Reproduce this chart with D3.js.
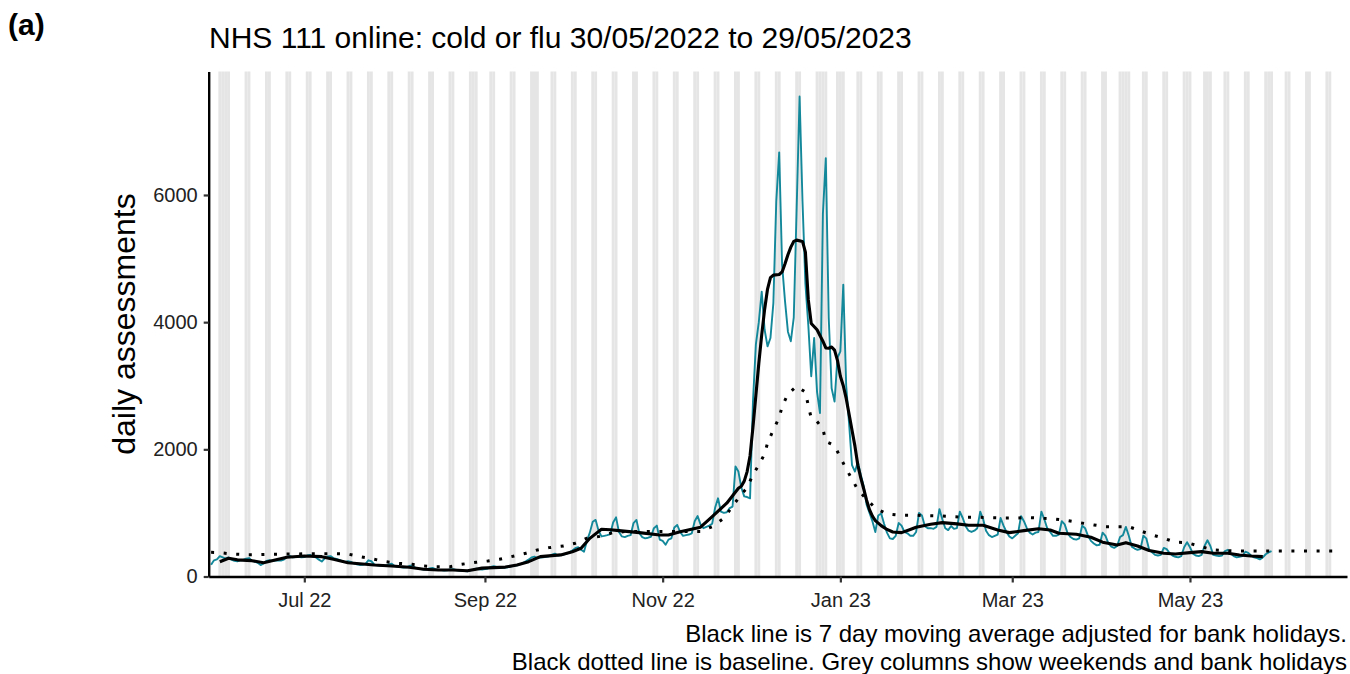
<!DOCTYPE html>
<html><head><meta charset="utf-8">
<script src="https://cdn.jsdelivr.net/npm/d3@7"></script>
<style>body{margin:0;background:#fff;} svg{display:block;font-family:"Liberation Sans",Arial,Helvetica,sans-serif;}</style>
</head><body><svg id="chart" width="1350" height="674"></svg>
<script>
// ---------------- data ----------------
const startDate = "2022-05-30";
// daily NHS 111 online cold or flu assessments, 30/05/2022 .. 29/05/2023
const dailyAssessments = [
 185,255,270,320,300,280,300, 265,245,240,255,260,280,290, 250,235,215,180,205,245,255,
 245,250,255,250,265,305,325, 300,305,310,300,305,330,340, 310,300,265,235,285,315,320,
 290,275,260,240,225,240,230, 205,190,182,185,200,255,240, 190,175,168,165,172,190,200,
 165,155,148,140,145,165,175, 140,128,118,110,112,128,135, 115,105,100,95,96,110,116,
 102,95,88,84,82,98,108, 122,115,110,118,126,150,162, 150,140,135,140,146,160,168,
 175,190,210,238,268,300,312, 290,298,300,310,318,345,360, 330,338,345,360,380,410,445,
 460,420,390,560,690,860,890, 720,630,640,650,665,850,930, 700,630,620,640,650,840,890,
 680,620,600,610,625,760,800, 580,560,500,580,600,770,810, 700,640,650,660,680,870,950,
 820,760,780,800,830,1080,1230, 1020,1000,1010,1075,1100,1730,1650, 1400,1260,1250,1230,2750,3650,4000,
 4480,3880,3620,3750,4300,5900,6670, 4900,4330,3850,3700,4070,5800,7550, 5900,4600,3950,3150,3750,2900,2570,
 5700,6580,4070,2960,2750,3440,3540, 4590,3000,2400,1750,1650,1800,1600, 1420,1130,1000,870,700,960,990,
 830,690,600,590,640,840,800, 700,680,640,640,700,1000,960, 790,760,760,750,780,1060,900,
 760,730,795,750,760,1020,920, 790,720,700,720,760,1020,900, 720,650,620,640,660,920,800,
 700,630,600,640,680,950,870, 760,690,660,690,700,1020,900, 760,700,640,640,660,870,820,
 680,620,590,580,600,800,760, 640,560,520,490,500,690,640, 520,470,450,480,620,650,780,
 640,470,440,420,430,640,600, 420,380,340,330,340,450,430, 370,330,310,300,320,460,540,
 460,360,330,320,340,480,570, 480,340,330,320,330,400,420, 360,320,300,310,320,390,370,
 330,300,290,270,300,350,380, 400
];
// 7 day moving average (adjusted for bank holidays): day number since startDate, value
const maDay = [3,6,9,14,18,22,26,32,38,42,47,52,56,62,68,73,78,83,88,93,97,101,105,109,113,120,124,127,130,134,
 137,140,147,154,157,161,168,172,177,181,182,183,184,185,186,187,188,189,190,191,192,193,195,196,197,198,199,200,201,203,
 204,205,206,208,210,211,212,213,214,215,216,217,218,219,220,221,222,223,224,225,226,227,228,230,232,234,237,240,242,247,
 251,256,260,265,270,274,279,284,288,291,297,302,306,311,314,318,322,327,331,336,340,344,349,353,357,361];
const maValue = [233,287,262,249,217,260,302,323,312,271,217,197,181,165,145,113,102,102,91,132,139,148,180,233,312,340,390,444,600,743,
 735,721,690,653,653,705,775,942,1153,1389,1420,1500,1650,1900,2350,2850,3350,3800,4200,4520,4700,4740,4750,4790,4920,5060,5180,5270,5290,5270,
 5100,4350,3980,3880,3700,3594,3590,3610,3560,3400,3150,3000,2800,2550,2300,2050,1750,1550,1380,1200,1050,950,880,800,740,700,690,740,775,822,
 847,827,806,806,732,690,721,750,732,680,665,617,540,496,532,480,410,365,354,375,391,365,365,339,323,312];
// baseline: day number since startDate, value
const baseDay = [0,3,7,12,16,21,29,34,43,47,51,56,60,64,69,73,77,82,86,91,95,99,103,108,112,116,121,125,129,133,
 138,142,168,172,176,181,184,186,188,190,191,193,195,196,198,201,204,205,206,208,210,211,214,216,218,220,222,225,228,232,
 236,241,245,250,254,258,263,267,272,277,281,285,289,294,298,303,307,315,319,323,327,331,335,339,344,349,353,388];
const baseValue = [380,375,354,343,343,350,354,359,359,354,312,271,233,208,192,165,154,154,192,224,244,271,312,365,417,454,480,523,602,627,
 690,706,706,784,917,1232,1398,1600,1756,1925,2100,2307,2500,2674,2870,2990,2900,2685,2491,2438,2323,2123,2060,1871,1693,1531,1362,1216,1074,984,
 964,964,958,953,942,932,932,926,921,921,926,916,906,879,847,811,784,784,717,653,602,539,532,480,417,406,402,402];
const bankHolidays = ["2022-06-02","2022-06-03","2022-08-29","2022-09-19","2022-12-26","2022-12-27",
 "2023-01-02","2023-04-07","2023-04-10","2023-05-01","2023-05-08","2023-05-29"];
const yTicks = [0,2000,4000,6000];
const xTickDates = ["2022-07-01","2022-09-01","2022-11-01","2023-01-01","2023-03-01","2023-05-01"];
const xTickLabels = ["Jul 22","Sep 22","Nov 22","Jan 23","Mar 23","May 23"];
const titleText = "NHS 111 online: cold or flu 30/05/2022 to 29/05/2023";
const yLabel = "daily assessments";
const captionLines = ["Black line is 7 day moving average adjusted for bank holidays.",
 "Black dotted line is baseline. Grey columns show weekends and bank holidays"];

// ---------------- layout ----------------
const M = {left:208.7, right:1347, top:71.5, bottom:576.5};
const DAY = 864e5;
const parse = d3.utcParse("%Y-%m-%d");
const fmt = d3.utcFormat("%Y-%m-%d");
const t0 = parse(startDate);
const svg = d3.select("#chart");
svg.append("rect").attr("width",1350).attr("height",674).attr("fill","#fff");

const x = d3.scaleUtc()
  .domain([new Date(+t0 - 0.82*DAY), new Date(+t0 + 389.9*DAY)])
  .range([M.left, M.right]);
const y = d3.scaleLinear().domain([0, 7942]).range([M.bottom, M.top]);

// grey columns: weekends + bank holidays
const bh = new Set(bankHolidays);
const days = d3.utcDay.range(d3.utcDay.floor(x.domain()[0]), x.domain()[1]);
const grey = days.filter(d => d.getUTCDay()===0 || d.getUTCDay()===6 || bh.has(fmt(d)));
svg.append("g").selectAll("rect").data(grey).join("rect")
  .attr("x", d => Math.max(M.left, x(new Date(+d - DAY/2))))
  .attr("width", d => Math.max(0, Math.min(M.right, x(new Date(+d + DAY/2))) - Math.max(M.left, x(new Date(+d - DAY/2)))))
  .attr("y", M.top).attr("height", M.bottom - M.top)
  .attr("fill", "#e5e5e5");

const line = d3.line().x(p => x(p.d)).y(p => y(p.v));
const tealData = dailyAssessments.map((v,i) => ({d: d3.utcDay.offset(t0, i), v}));
const maData = maDay.map((k,i) => ({d: d3.utcDay.offset(t0, k), v: maValue[i]}));
const baseData = baseDay.map((k,i) => ({d: d3.utcDay.offset(t0, k), v: baseValue[i]}));

svg.append("path").datum(tealData).attr("d", line)
  .attr("fill","none").attr("stroke","#13889b").attr("stroke-width",1.9).attr("stroke-linejoin","round");
svg.append("path").datum(maData).attr("d", line)
  .attr("fill","none").attr("stroke","#000").attr("stroke-width",3.1).attr("stroke-linejoin","round");
svg.append("path").datum(baseData).attr("d", line)
  .attr("fill","none").attr("stroke","#000").attr("stroke-width",3)
  .attr("stroke-dasharray","3 9.6");

// axes
const yAxis = svg.append("g").attr("transform",`translate(${M.left},0)`)
  .call(d3.axisLeft(y).tickValues(yTicks).tickFormat(d3.format("d")).tickSize(5).tickPadding(6).tickSizeOuter(0));
const xAxis = svg.append("g").attr("transform",`translate(0,${M.bottom})`)
  .call(d3.axisBottom(x).tickValues(xTickDates.map(parse)).tickFormat((d,i) => xTickLabels[i]).tickSize(6).tickPadding(10).tickSizeOuter(0));
[yAxis, xAxis].forEach(g => {
  g.select(".domain").attr("stroke","#000").attr("stroke-width",2.4);
  g.selectAll(".tick line").attr("stroke","#333").attr("stroke-width",2.2);
  g.selectAll(".tick text").attr("fill","#222").style("font-size","20px")
    .style("font-family",'"Liberation Sans",Arial,sans-serif');
});

// texts
svg.append("text").attr("x",8).attr("y",35).text("(a)")
  .style("font-size","30px").style("font-weight","bold").attr("fill","#000");
svg.append("text").attr("x",209).attr("y",48).text(titleText)
  .style("font-size","30px").attr("fill","#000");
svg.append("text").attr("transform",`translate(135,${(M.top+M.bottom)/2}) rotate(-90)`)
  .attr("text-anchor","middle").text(yLabel).style("font-size","32px").attr("fill","#000");
svg.append("g").selectAll("text").data(captionLines).join("text")
  .attr("x",1347).attr("y",(d,i) => 642 + i*28).attr("text-anchor","end")
  .style("font-size","24px").attr("fill","#000").text(d => d);
</script></body></html>
